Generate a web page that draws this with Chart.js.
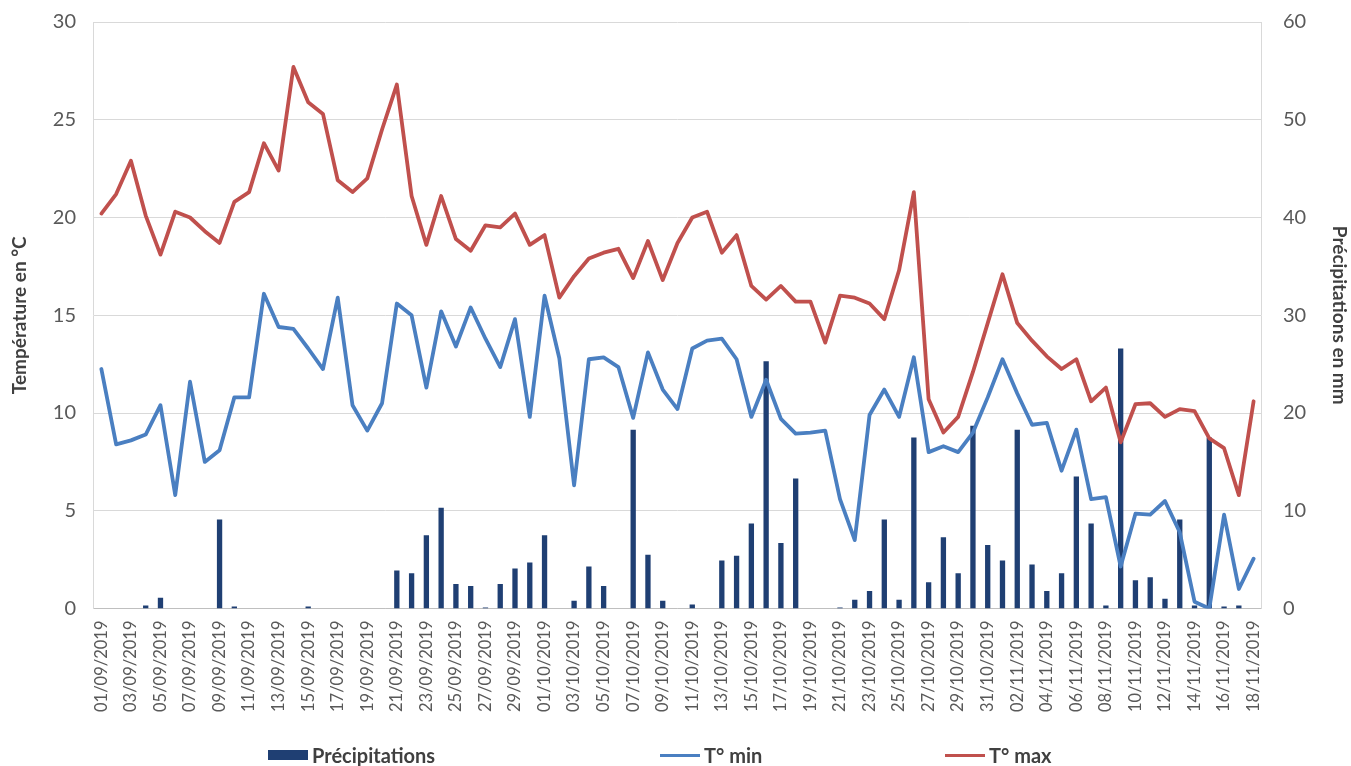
<!DOCTYPE html>
<html lang="fr">
<head>
<meta charset="utf-8">
<title>Températures et précipitations</title>
<script src="https://cdn.jsdelivr.net/npm/chart.js@4.4.1/dist/chart.umd.min.js"></script>
<style>
  html, body { margin: 0; padding: 0; background: #ffffff; }
  #wrap { position: relative; width: 1351px; height: 766px; overflow: hidden; }
  #chart { display: block; }
  #legend { position: absolute; left: 0; top: 744px; width: 1351px; height: 22px;
            font: bold 20px Lato, "Open Sans", sans-serif; color: #404040; }
  #legend .item { position: absolute; top: 0; display: flex; align-items: center; height: 22px; white-space: nowrap; }
  #legend .swatch { width: 40px; margin-right: 4px; }
</style>
</head>
<body>
<div id="wrap">
  <canvas id="chart" width="1351" height="766"></canvas>
  <div id="legend"></div>
</div>
<script>
// Daily dates, 1 Sept - 18 Nov 2019
const dates = [
  "01/09/2019","02/09/2019","03/09/2019","04/09/2019","05/09/2019","06/09/2019","07/09/2019","08/09/2019","09/09/2019","10/09/2019",
  "11/09/2019","12/09/2019","13/09/2019","14/09/2019","15/09/2019","16/09/2019","17/09/2019","18/09/2019","19/09/2019","20/09/2019",
  "21/09/2019","22/09/2019","23/09/2019","24/09/2019","25/09/2019","26/09/2019","27/09/2019","28/09/2019","29/09/2019","30/09/2019",
  "01/10/2019","02/10/2019","03/10/2019","04/10/2019","05/10/2019","06/10/2019","07/10/2019","08/10/2019","09/10/2019","10/10/2019",
  "11/10/2019","12/10/2019","13/10/2019","14/10/2019","15/10/2019","16/10/2019","17/10/2019","18/10/2019","19/10/2019","20/10/2019",
  "21/10/2019","22/10/2019","23/10/2019","24/10/2019","25/10/2019","26/10/2019","27/10/2019","28/10/2019","29/10/2019","30/10/2019",
  "31/10/2019","01/11/2019","02/11/2019","03/11/2019","04/11/2019","05/11/2019","06/11/2019","07/11/2019","08/11/2019","09/11/2019",
  "10/11/2019","11/11/2019","12/11/2019","13/11/2019","14/11/2019","15/11/2019","16/11/2019","17/11/2019","18/11/2019"
];

// Daily rainfall (mm), right axis
const precipitations = [
  0, 0, 0, 0.3, 1.1, 0, 0, 0, 9.1, 0.2,
  0, 0, 0, 0, 0.2, 0, 0, 0, 0, 0,
  3.9, 3.6, 7.5, 10.3, 2.5, 2.3, 0.1, 2.5, 4.1, 4.7,
  7.5, 0, 0.8, 4.3, 2.3, 0, 18.3, 5.5, 0.8, 0,
  0.4, 0, 4.9, 5.4, 8.7, 25.3, 6.7, 13.3, 0, 0,
  0.1, 0.9, 1.8, 9.1, 0.9, 17.5, 2.7, 7.3, 3.6, 18.7,
  6.5, 4.9, 18.3, 4.5, 1.8, 3.6, 13.5, 8.7, 0.3, 26.6,
  2.9, 3.2, 1.0, 9.1, 0.3, 17.5, 0.2, 0.3, 0
];

// Daily minimum temperature (°C)
const tMin = [
  12.25, 8.4, 8.6, 8.9, 10.4, 5.8, 11.6, 7.5, 8.1, 10.8,
  10.8, 16.1, 14.4, 14.3, 13.3, 12.25, 15.9, 10.4, 9.1, 10.5,
  15.6, 15.0, 11.3, 15.2, 13.4, 15.4, 13.8, 12.35, 14.8, 9.8,
  16.0, 12.8, 6.3, 12.75, 12.85, 12.35, 9.75, 13.1, 11.2, 10.2,
  13.3, 13.7, 13.8, 12.75, 9.8, 11.7, 9.7, 8.95, 9.0, 9.1,
  5.6, 3.5, 9.9, 11.2, 9.8, 12.85, 8.0, 8.3, 8.0, 9.0,
  10.8, 12.75, 11.0, 9.4, 9.5, 7.05, 9.15, 5.6, 5.7, 2.15,
  4.85, 4.8, 5.5, 3.9, 0.35, 0.0, 4.8, 1.0, 2.55
];

// Daily maximum temperature (°C)
const tMax = [
  20.2, 21.2, 22.9, 20.1, 18.1, 20.3, 20.0, 19.3, 18.7, 20.8,
  21.3, 23.8, 22.4, 27.7, 25.9, 25.3, 21.9, 21.3, 22.0, 24.5,
  26.8, 21.1, 18.6, 21.1, 18.9, 18.3, 19.6, 19.5, 20.2, 18.6,
  19.1, 15.9, 17.0, 17.9, 18.2, 18.4, 16.9, 18.8, 16.8, 18.7,
  20.0, 20.3, 18.2, 19.1, 16.5, 15.8, 16.5, 15.7, 15.7, 13.6,
  16.0, 15.9, 15.6, 14.8, 17.3, 21.3, 10.7, 9.0, 9.8, 12.1,
  14.6, 17.1, 14.6, 13.7, 12.9, 12.25, 12.75, 10.6, 11.3, 8.5,
  10.45, 10.5, 9.8, 10.2, 10.1, 8.7, 8.2, 5.8, 10.6
];

const seriesNames = ["Précipitations", "T° min", "T° max"];
const colours = { rain: "#1f3f73", min: "#4a7fc1", max: "#c0504d" };

const tickFont = { family: "Lato, 'Open Sans', sans-serif", size: 20 };
const dateFont = { family: "Lato, 'Open Sans', sans-serif", size: 16.5 };
const titleFont = { family: "Lato, 'Open Sans', sans-serif", size: 19, weight: "bold" };

// Value axes: keep only half a label of head-room above the top tick
function trimVerticalPadding(scale) {
  scale.paddingTop = 12;
  scale.paddingBottom = 12;
}

const chart = new Chart(document.getElementById("chart"), {
  data: {
    labels: dates,
    datasets: [
      { type: "bar", label: seriesNames[0], data: precipitations, yAxisID: "y1",
        backgroundColor: colours.rain, borderWidth: 0,
        barPercentage: 0.36, categoryPercentage: 1.0, order: 3 },
      { type: "line", label: seriesNames[1], data: tMin, yAxisID: "y",
        borderColor: colours.min, backgroundColor: colours.min, borderWidth: 3.8,
        pointRadius: 0, tension: 0, borderJoinStyle: "round", borderCapStyle: "round", order: 2 },
      { type: "line", label: seriesNames[2], data: tMax, yAxisID: "y",
        borderColor: colours.max, backgroundColor: colours.max, borderWidth: 3.8,
        pointRadius: 0, tension: 0, borderJoinStyle: "round", borderCapStyle: "round", order: 1 }
    ]
  },
  options: {
    responsive: false,
    animation: false,
    layout: { padding: { top: 22, left: 8, right: 0, bottom: 50 } },
    plugins: {
      legend: { display: false },
      tooltip: { enabled: false }
    },
    scales: {
      x: {
        offset: true,
        grid: { display: false },
        border: { display: true, color: "#bfbfbf", width: 1 },
        ticks: {
          autoSkip: false, maxRotation: 90, minRotation: 90, padding: 4,
          color: "#595959", font: dateFont,
          callback: function (value, index) { return index % 2 === 0 ? this.getLabelForValue(value) : ""; }
        }
      },
      y: {
        position: "left", min: 0, max: 30,
        afterFit: trimVerticalPadding,
        ticks: { stepSize: 5, color: "#595959", font: tickFont, padding: 18 },
        grid: { color: "#d9d9d9", drawTicks: false },
        border: { display: true, color: "#d9d9d9" },
        title: { display: true, text: "Température en °C", color: "#404040", font: titleFont, padding: { top: 0, bottom: 4 } }
      },
      y1: {
        position: "right", min: 0, max: 60,
        afterFit: trimVerticalPadding,
        ticks: { stepSize: 10, color: "#595959", font: tickFont, padding: 22 },
        grid: { display: false, drawTicks: false },
        border: { display: true, color: "#d9d9d9" },
        title: { display: true, text: "Précipitations en mm", color: "#404040", font: titleFont, padding: { top: 0, bottom: 0 } }
      }
    }
  }
});

// Legend row under the chart, built from the datasets
const legendLeft = [268, 660, 945];
const legendEl = document.getElementById("legend");
chart.data.datasets.forEach((ds, i) => {
  const item = document.createElement("div");
  item.className = "item";
  item.style.left = legendLeft[i] + "px";
  const sw = document.createElement("span");
  sw.className = "swatch";
  sw.style.background = ds.type === "bar" ? ds.backgroundColor : ds.borderColor;
  sw.style.height = ds.type === "bar" ? "10px" : "3px";
  const txt = document.createElement("span");
  txt.textContent = ds.label;
  item.appendChild(sw);
  item.appendChild(txt);
  legendEl.appendChild(item);
});
</script>
</body>
</html>
